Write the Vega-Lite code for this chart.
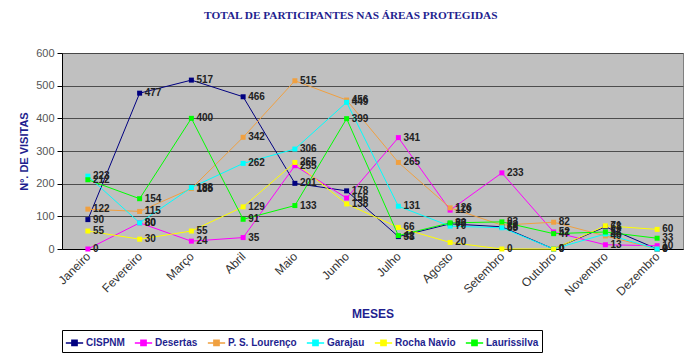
{
  "$schema": "https://vega.github.io/schema/vega-lite/v6.json",
  "width": 621,
  "height": 196,
  "padding": {"left": 18, "top": 9, "right": 14, "bottom": 4},
  "background": "white",
  "title": {
    "text": "TOTAL DE PARTICIPANTES NAS ÁREAS PROTEGIDAS",
    "font": "Liberation Serif",
    "fontSize": 11.3,
    "fontWeight": "bold",
    "color": "#1f1f8f",
    "anchor": "middle",
    "frame": "bounds",
    "offset": 26
  },
  "config": {
    "view": {"fill": "#c0c0c0", "stroke": "#808080"},
    "font": "Liberation Sans"
  },
  "datasets": {
    "visitas": [
      {"mes": "Janeiro", "serie": "CISPNM", "valor": 90},
      {"mes": "Fevereiro", "serie": "CISPNM", "valor": 477},
      {"mes": "Março", "serie": "CISPNM", "valor": 517},
      {"mes": "Abril", "serie": "CISPNM", "valor": 466},
      {"mes": "Maio", "serie": "CISPNM", "valor": 201},
      {"mes": "Junho", "serie": "CISPNM", "valor": 178},
      {"mes": "Julho", "serie": "CISPNM", "valor": 38},
      {"mes": "Agosto", "serie": "CISPNM", "valor": 77},
      {"mes": "Setembro", "serie": "CISPNM", "valor": 68},
      {"mes": "Outubro", "serie": "CISPNM", "valor": 0},
      {"mes": "Novembro", "serie": "CISPNM", "valor": 68},
      {"mes": "Dezembro", "serie": "CISPNM", "valor": 0},
      {"mes": "Janeiro", "serie": "Desertas", "valor": 0},
      {"mes": "Fevereiro", "serie": "Desertas", "valor": 80},
      {"mes": "Março", "serie": "Desertas", "valor": 24},
      {"mes": "Abril", "serie": "Desertas", "valor": 35},
      {"mes": "Maio", "serie": "Desertas", "valor": 255},
      {"mes": "Junho", "serie": "Desertas", "valor": 156},
      {"mes": "Julho", "serie": "Desertas", "valor": 341},
      {"mes": "Agosto", "serie": "Desertas", "valor": 119},
      {"mes": "Setembro", "serie": "Desertas", "valor": 233},
      {"mes": "Outubro", "serie": "Desertas", "valor": 52},
      {"mes": "Novembro", "serie": "Desertas", "valor": 13},
      {"mes": "Dezembro", "serie": "Desertas", "valor": 10},
      {"mes": "Janeiro", "serie": "P. S. Lourenço", "valor": 122},
      {"mes": "Fevereiro", "serie": "P. S. Lourenço", "valor": 115},
      {"mes": "Março", "serie": "P. S. Lourenço", "valor": 185},
      {"mes": "Abril", "serie": "P. S. Lourenço", "valor": 342},
      {"mes": "Maio", "serie": "P. S. Lourenço", "valor": 515},
      {"mes": "Junho", "serie": "P. S. Lourenço", "valor": 456},
      {"mes": "Julho", "serie": "P. S. Lourenço", "valor": 265},
      {"mes": "Agosto", "serie": "P. S. Lourenço", "valor": 126},
      {"mes": "Setembro", "serie": "P. S. Lourenço", "valor": 73},
      {"mes": "Outubro", "serie": "P. S. Lourenço", "valor": 82},
      {"mes": "Novembro", "serie": "P. S. Lourenço", "valor": 40},
      {"mes": "Dezembro", "serie": "P. S. Lourenço", "valor": 0},
      {"mes": "Janeiro", "serie": "Garajau", "valor": 223},
      {"mes": "Fevereiro", "serie": "Garajau", "valor": 80},
      {"mes": "Março", "serie": "Garajau", "valor": 188},
      {"mes": "Abril", "serie": "Garajau", "valor": 262},
      {"mes": "Maio", "serie": "Garajau", "valor": 306},
      {"mes": "Junho", "serie": "Garajau", "valor": 449},
      {"mes": "Julho", "serie": "Garajau", "valor": 131},
      {"mes": "Agosto", "serie": "Garajau", "valor": 70},
      {"mes": "Setembro", "serie": "Garajau", "valor": 65},
      {"mes": "Outubro", "serie": "Garajau", "valor": 0},
      {"mes": "Novembro", "serie": "Garajau", "valor": 46},
      {"mes": "Dezembro", "serie": "Garajau", "valor": 0},
      {"mes": "Janeiro", "serie": "Rocha Navio", "valor": 55},
      {"mes": "Fevereiro", "serie": "Rocha Navio", "valor": 30},
      {"mes": "Março", "serie": "Rocha Navio", "valor": 55},
      {"mes": "Abril", "serie": "Rocha Navio", "valor": 129},
      {"mes": "Maio", "serie": "Rocha Navio", "valor": 265},
      {"mes": "Junho", "serie": "Rocha Navio", "valor": 138},
      {"mes": "Julho", "serie": "Rocha Navio", "valor": 66},
      {"mes": "Agosto", "serie": "Rocha Navio", "valor": 20},
      {"mes": "Setembro", "serie": "Rocha Navio", "valor": 0},
      {"mes": "Outubro", "serie": "Rocha Navio", "valor": 0},
      {"mes": "Novembro", "serie": "Rocha Navio", "valor": 71},
      {"mes": "Dezembro", "serie": "Rocha Navio", "valor": 60},
      {"mes": "Janeiro", "serie": "Laurissilva", "valor": 212},
      {"mes": "Fevereiro", "serie": "Laurissilva", "valor": 154},
      {"mes": "Março", "serie": "Laurissilva", "valor": 400},
      {"mes": "Abril", "serie": "Laurissilva", "valor": 91},
      {"mes": "Maio", "serie": "Laurissilva", "valor": 133},
      {"mes": "Junho", "serie": "Laurissilva", "valor": 399},
      {"mes": "Julho", "serie": "Laurissilva", "valor": 41},
      {"mes": "Agosto", "serie": "Laurissilva", "valor": 80},
      {"mes": "Setembro", "serie": "Laurissilva", "valor": 83},
      {"mes": "Outubro", "serie": "Laurissilva", "valor": 47},
      {"mes": "Novembro", "serie": "Laurissilva", "valor": 52},
      {"mes": "Dezembro", "serie": "Laurissilva", "valor": 33}
    ]
  },
  "data": {"name": "visitas"},
  "encoding": {
    "x": {
      "field": "mes",
      "type": "ordinal",
      "sort": ["Janeiro", "Fevereiro", "Março", "Abril", "Maio", "Junho", "Julho", "Agosto", "Setembro", "Outubro", "Novembro", "Dezembro"],
      "scale": {"type": "point", "padding": 0.5},
      "axis": {
        "title": "MESES",
        "titleFont": "Liberation Sans",
        "titleFontSize": 12,
        "titleFontWeight": "bold",
        "titleColor": "#1f1f8f",
        "titlePadding": 11,
        "labelAngle": -45,
        "labelAlign": "right",
        "labelBaseline": "middle",
        "labelFontSize": 12,
        "labelColor": "#333333",
        "labelPadding": 5,
        "domainColor": "#000000",
        "tickColor": "#000000",
        "ticks": false,
        "grid": false
      }
    },
    "y": {
      "field": "valor",
      "type": "quantitative",
      "scale": {"domain": [0, 600], "nice": false},
      "axis": {
        "title": "Nº. DE VISITAS",
        "titleFont": "Liberation Sans",
        "titleFontSize": 11,
        "titleFontWeight": "bold",
        "titleColor": "#1f1f8f",
        "titlePadding": 6,
        "values": [0, 100, 200, 300, 400, 500, 600],
        "labelFontSize": 11,
        "labelColor": "#555555",
        "labelPadding": 3,
        "domainColor": "#000000",
        "tickColor": "#000000",
        "tickSize": 5,
        "gridColor": "#404040",
        "gridWidth": 1,
        "gridOpacity": 0.9
      }
    },
    "color": {
      "field": "serie",
      "type": "nominal",
      "sort": ["CISPNM", "Desertas", "P. S. Lourenço", "Garajau", "Rocha Navio", "Laurissilva"],
      "scale": {
        "domain": ["CISPNM", "Desertas", "P. S. Lourenço", "Garajau", "Rocha Navio", "Laurissilva"],
        "range": ["#000080", "#ff00ff", "#f0a040", "#00ffff", "#ffff00", "#00ff00"]
      },
      "legend": {
        "title": null,
        "orient": "none",
        "legendX": 0,
        "legendY": 277,
        "direction": "horizontal",
        "columns": 6,
        "columnPadding": 6,
        "padding": 3,
        "strokeColor": "#000000",
        "fillColor": "white",
        "labelFont": "Liberation Sans",
        "labelFontSize": 10,
        "labelFontWeight": "bold",
        "labelColor": "#1f1f8f",
        "labelOffset": 2,
        "symbolType": "M-1,0L1,0M-0.3,-0.3L0.3,-0.3L0.3,0.3L-0.3,0.3Z",
        "symbolSize": 300,
        "symbolStrokeWidth": 1.5,
        "encode": {
          "symbols": {
            "update": {
              "fill": {"scale": "color", "field": "value"},
              "stroke": {"scale": "color", "field": "value"}
            }
          }
        }
      }
    }
  },
  "layer": [
    {"mark": {"type": "line", "strokeWidth": 1}},
    {"mark": {"type": "square", "size": 25, "opacity": 1, "filled": true}},
    {
      "mark": {"type": "text", "align": "left", "dx": 5, "fontSize": 10, "fontWeight": "bold", "font": "Liberation Sans", "color": "#222222"},
      "encoding": {"text": {"field": "valor", "type": "quantitative"}, "color": {"value": "#222222"}}
    }
  ]
}
